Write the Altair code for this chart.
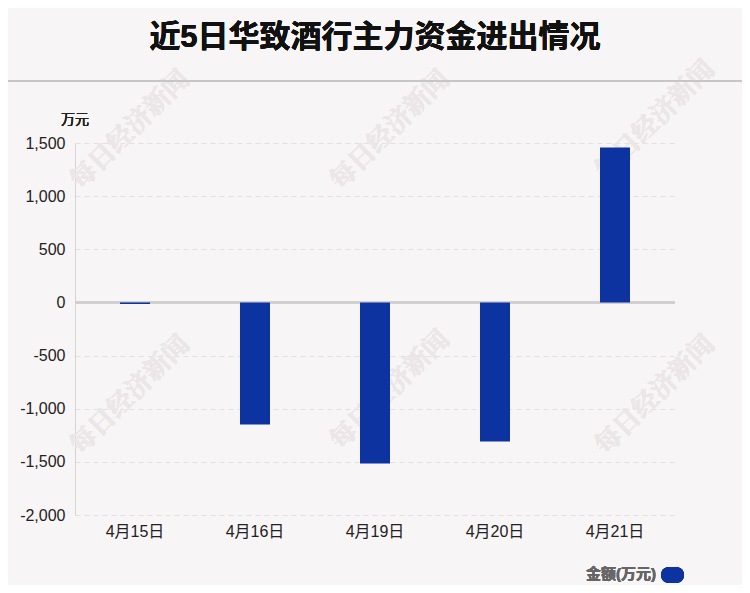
import altair as alt
import pandas as pd

dates = ["4月15日", "4月16日", "4月19日", "4月20日", "4月21日"]
amounts = [-15, -1148, -1515, -1308, 1458]
y_ticks = [-2000, -1500, -1000, -500, 0, 500, 1000, 1500]

title_text = "近5日华致酒行主力资金进出情况"
unit_text = "万元"
legend_text = "金额(万元)"
watermark = "每日经济新闻"

BAR = "#0c339f"
BG = "#f8f5f6"
FONT = "Liberation Sans, Noto Sans CJK SC"

df = pd.DataFrame({"date": dates, "amount": amounts})

W, H = 600, 372

bars = alt.Chart(df).mark_bar(color=BAR).encode(
    x=alt.X("date:N", sort=dates,
            scale=alt.Scale(paddingInner=0.75, paddingOuter=0.375),
            axis=alt.Axis(title=None, labelAngle=0, labelFontSize=16, labelColor="#222",
                          labelFont=FONT, ticks=False, domain=False, labelPadding=8)),
    y=alt.Y("amount:Q",
            scale=alt.Scale(domain=[-2000, 1500], nice=False),
            axis=alt.Axis(title=None, values=y_ticks,
                          labelExpr="(datum.value < 0 ? '-' : '') + format(abs(datum.value), ',.0f')",
                          labelFontSize=16,
                          labelColor="#222", labelFont=FONT, ticks=False, labelPadding=10,
                          domain=True, domainColor="#d4d4d4", domainWidth=1,
                          grid=True, gridColor="#e2e0e0", gridDash=[5, 4], gridWidth=1)),
)

zero = alt.Chart(df).mark_rule(color="#cfcfcf", strokeWidth=2).encode(y=alt.datum(0))

layers = []
for (wx, wy) in [(55, -13), (315, -13), (580, -23), (55, 252), (315, 247), (580, 252)]:
    layers.append(alt.Chart(df).mark_text(text=watermark, angle=315, fontSize=26, fontWeight="bold",
                                          font="Noto Serif CJK SC, Noto Sans CJK SC", color="#ebe6e7")
                  .encode(x=alt.value(wx), y=alt.value(wy)))

title = alt.Chart(df).mark_text(text=title_text, fontSize=31, fontWeight="bold", font=FONT,
                                color="#111", align="center", baseline="middle").encode(
    x=alt.value(300), y=alt.value(-105))
sep = alt.Chart(df).mark_rule(color="#c6c6c6", strokeWidth=2).encode(
    x=alt.value(-75), x2=alt.value(675), y=alt.value(-62))
unit = alt.Chart(df).mark_text(text=unit_text, fontSize=14, font=FONT, color="#222",
                               align="center", baseline="middle").encode(
    x=alt.value(0), y=alt.value(-23))
leg_text = alt.Chart(df).mark_text(text=legend_text, fontSize=15, fontWeight="bold", font=FONT,
                                   color="#666", align="right", baseline="middle").encode(
    x=alt.value(581), y=alt.value(431))
leg_rect = alt.Chart(df).mark_rect(color=BAR, cornerRadius=8).encode(
    x=alt.value(586), x2=alt.value(609), y=alt.value(424), y2=alt.value(440))

chart = alt.layer(*layers, zero, bars, title, sep, unit, leg_text, leg_rect).properties(
    width=W, height=H, background=BG,
    padding={"left": 67, "top": 135, "right": 67, "bottom": 70},
    autosize=alt.AutoSizeParams(type="none"),
).configure_view(stroke=None)

chart.save("out.html", embed_options={"renderer": "svg", "actions": False})
